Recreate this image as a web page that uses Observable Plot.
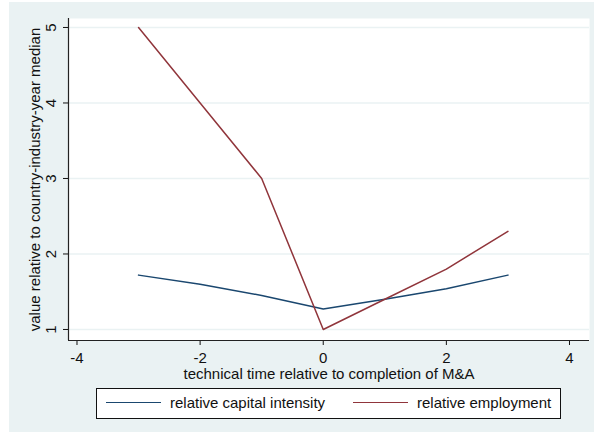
<!DOCTYPE html>
<html><head><meta charset="utf-8">
<script src="https://cdn.jsdelivr.net/npm/d3@7"></script>
<script src="https://cdn.jsdelivr.net/npm/@observablehq/plot@0.6"></script>
<style>
body{margin:0;background:#fff;font-family:"Liberation Sans",Arial,sans-serif;}
#wrap{position:absolute;left:9px;top:2px;width:585px;height:430px;background:#eaf2f3;}
#chart{position:absolute;left:0;top:0;}
#legend{position:absolute;left:87px;top:386px;width:465px;height:31px;background:#fff;border:1px solid #111;box-sizing:border-box;font-size:15px;color:#111;}
.item{position:absolute;top:5px;display:flex;align-items:center;}
.sw{display:inline-block;width:55px;height:0;border-top:1.5px solid;margin-right:9px;}
</style></head>
<body><div id="wrap"><div id="chart"></div><div id="legend"></div></div>
<script>
const years = [-3, -2, -1, 0, 1, 2, 3];
const capital = [1.72, 1.60, 1.45, 1.27, 1.40, 1.54, 1.72];
const employment = [5.0, 4.0, 3.0, 1.0, 1.4, 1.8, 2.3];
const xTicks = [-4, -2, 0, 2, 4];
const yTicks = [1, 2, 3, 4, 5];
const seriesNames = ["relative capital intensity", "relative employment"];
const colors = ["#1a476f", "#90353b"];

const data = [];
years.forEach((t, i) => {
  data.push({t, v: capital[i], s: seriesNames[0]});
  data.push({t, v: employment[i], s: seriesNames[1]});
});
const xDom = [-4.138, 4.325], yDom = [0.854, 5.119];
const fs = 15;

const chart = Plot.plot({
  width: 585, height: 392,
  marginLeft: 59, marginTop: 16, marginRight: 5, marginBottom: 54,
  style: {background: "transparent", fontFamily: "Liberation Sans, Arial, sans-serif", fontSize: fs + "px", color: "#111"},
  x: {domain: xDom},
  y: {domain: yDom},
  color: {domain: seriesNames, range: colors},
  marks: [
    Plot.frame({fill: "white", stroke: null}),
    Plot.gridY(yTicks, {stroke: "#eaf2f3", strokeOpacity: 1, strokeWidth: 1.5}),
    Plot.line(data, {x: "t", y: "v", z: "s", stroke: "s", strokeWidth: 1.5}),
    Plot.axisY(yTicks, {tickSize: 5, text: null, fontSize: fs,
      label: "value relative to country-industry-year median", labelAnchor: "center", labelArrow: "none", labelOffset: 39}),
    Plot.text(yTicks, {x: xDom[0], y: d => d, text: d => String(d), rotate: -90, dx: -17, lineAnchor: "middle", textAnchor: "middle", fontSize: fs, fill: "#111"}),
    Plot.axisX(xTicks, {tickSize: 5, tickPadding: 7, tickFormat: d => String(d), fontSize: fs,
      label: "technical time relative to completion of M&A", labelAnchor: "center", labelArrow: "none", labelOffset: 38}),
    Plot.ruleX([xDom[0]], {stroke: "#222", strokeWidth: 1.2}),
    Plot.ruleY([yDom[0]], {stroke: "#222", strokeWidth: 1.2})
  ]
});
document.getElementById("chart").appendChild(chart);

const lg = document.getElementById("legend");
const lefts = [9, 256];
seriesNames.forEach((n, i) => {
  const d = document.createElement("div");
  d.className = "item"; d.style.left = lefts[i] + "px";
  d.innerHTML = `<span class="sw" style="border-color:${colors[i]}"></span><span>${n}</span>`;
  lg.appendChild(d);
});
</script></body></html>
